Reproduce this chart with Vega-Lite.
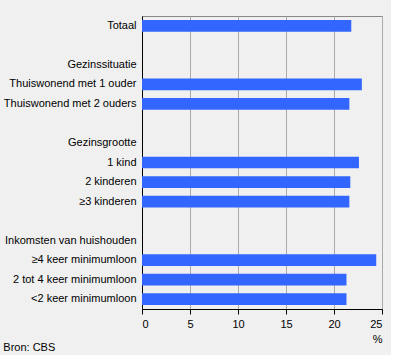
{
  "$schema": "https://vega.github.io/schema/vega-lite/v6.json",
  "width": 240,
  "height": 293,
  "padding": {"left": 3, "top": 16, "right": 8, "bottom": 2},
  "background": "#f0f0f0",
  "data": {
    "values": [
      {"cat": "Totaal", "v": 21.8},
      {"cat": " ", "v": null},
      {"cat": "Gezinssituatie", "v": null},
      {"cat": "Thuiswonend met 1 ouder", "v": 22.9},
      {"cat": "Thuiswonend met 2 ouders", "v": 21.6},
      {"cat": "  ", "v": null},
      {"cat": "Gezinsgrootte", "v": null},
      {"cat": "1 kind", "v": 22.6},
      {"cat": "2 kinderen", "v": 21.7},
      {"cat": "≥3 kinderen", "v": 21.6},
      {"cat": "   ", "v": null},
      {"cat": "Inkomsten van huishouden", "v": null},
      {"cat": "≥4 keer minimumloon", "v": 24.4},
      {"cat": "2 tot 4 keer minimumloon", "v": 21.3},
      {"cat": "<2 keer minimumloon", "v": 21.3}
    ]
  },
  "title": {
    "text": "Bron: CBS",
    "orient": "bottom",
    "anchor": "start",
    "frame": "bounds",
    "font": "Liberation Sans",
    "fontSize": 11,
    "fontWeight": "normal",
    "color": "#000",
    "offset": -2
  },
  "mark": {"type": "bar", "color": "#3366ff"},
  "encoding": {
    "y": {
      "field": "cat",
      "type": "nominal",
      "sort": null,
      "scale": {
        "domain": ["Totaal", " ", "Gezinssituatie", "Thuiswonend met 1 ouder", "Thuiswonend met 2 ouders", "  ", "Gezinsgrootte", "1 kind", "2 kinderen", "≥3 kinderen", "   ", "Inkomsten van huishouden", "≥4 keer minimumloon", "2 tot 4 keer minimumloon", "<2 keer minimumloon"],
        "paddingInner": 0.4,
        "paddingOuter": 0.2
      },
      "axis": {
        "title": null,
        "ticks": false,
        "labelPadding": 6,
        "domainColor": "#000",
        "labelFont": "Liberation Sans",
        "labelFontSize": 11,
        "labelColor": "#000",
        "labelLimit": 300
      }
    },
    "x": {
      "field": "v",
      "type": "quantitative",
      "scale": {"domain": [0, 25], "nice": false},
      "axis": {
        "title": "%",
        "titleAnchor": "end",
        "titleFont": "Liberation Sans",
        "titleFontSize": 11,
        "titleFontWeight": "normal",
        "titleColor": "#000",
        "titlePadding": 4,
        "values": [0, 5, 10, 15, 20, 25],
        "tickColor": "#000",
        "tickSize": 5,
        "domainColor": "#000",
        "gridColor": "#aaaaaa",
        "labelFont": "Liberation Sans",
        "labelFontSize": 11,
        "labelColor": "#000",
        "labelPadding": 4
      }
    }
  },
  "config": {
    "view": {"stroke": "#888888"}
  }
}
